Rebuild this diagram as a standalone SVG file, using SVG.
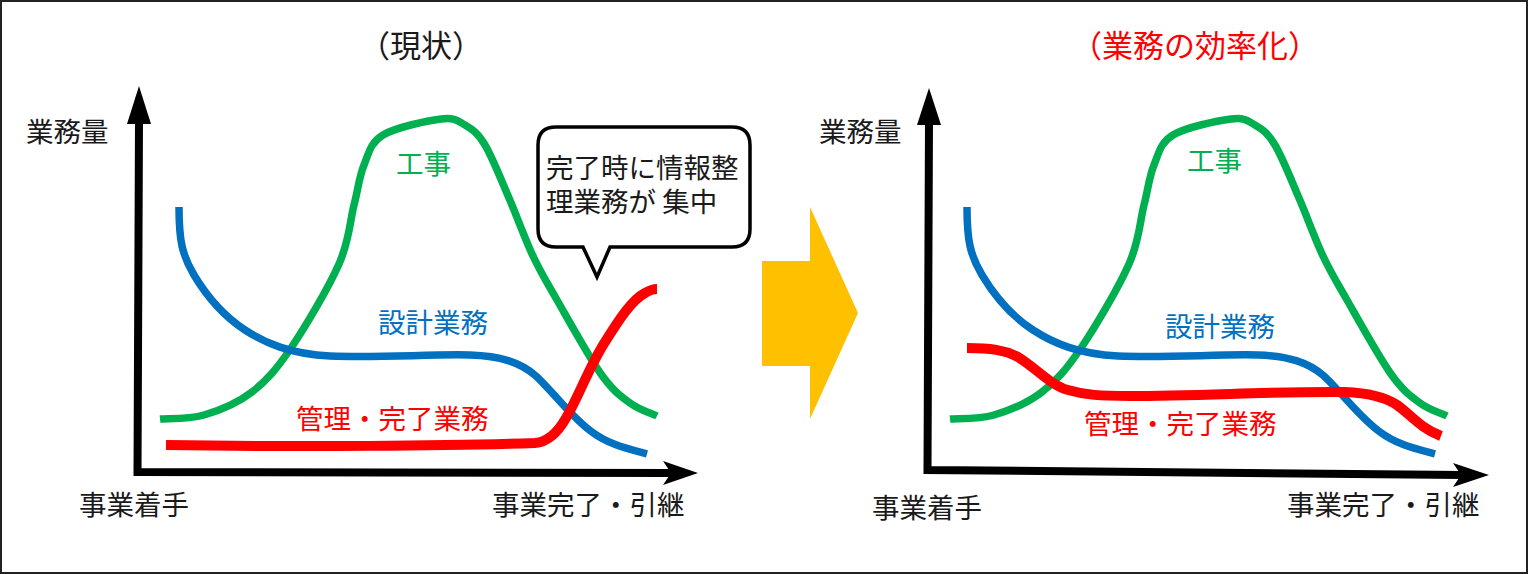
<svg xmlns="http://www.w3.org/2000/svg" width="1528" height="574" viewBox="0 0 1528 574">
<style>
text{font-family:"Noto Sans CJK JP","Noto Sans CJK SC",sans-serif;font-size:27.5px;fill:#1a1a1a}
.title{font-size:31px;text-anchor:middle}
.red{fill:#FF0000}
.green{fill:#00B050}
.blue{fill:#0070C0}
.curve{fill:none;stroke-linecap:butt;stroke-linejoin:round}
.g{stroke:#00B050;stroke-width:7.5}
.b{stroke:#0070C0;stroke-width:7.5}
.r{stroke:#FF0000;stroke-width:10}
.axis{fill:none;stroke:#000;stroke-width:8;stroke-linejoin:miter;stroke-linecap:butt}
.head{fill:#000}
</style>
<rect x="1" y="1" width="1526" height="572" fill="#fff" stroke="#222" stroke-width="2"/>

<g id="left-chart">
  <text class="title" x="421" y="57">（現状）</text>
  <g id="left-axes">
    <path class="axis" d="M139,122 L137.5,472 L672,473"/>
    <polygon class="head" points="139,86 127,124 151,124"/>
    <polygon class="head" points="698,473 663,461 671,473 663,485"/>
  </g>
  <text x="26" y="142">業務量</text>
  <text x="79" y="515">事業着手</text>
  <text x="492" y="515">事業完了・引継</text>
  <g id="left-curves">
    <path id="green-curve" class="curve g" d="M160,419 C167.3,418.3 188.7,419.5 204,415 C219.3,410.5 237.5,403.2 252,392 C266.5,380.8 276.5,369.3 291,348 C305.5,326.7 328.5,287.8 339,264 C349.5,240.2 349.8,221.5 354,205 C358.2,188.5 359.2,176.7 364,165 C368.8,153.3 370.2,142.7 383,135 C395.8,127.3 427.3,120.7 441,119 C454.7,117.3 457.7,120.7 465,125 C472.3,129.3 477.7,132.8 485,145 C492.3,157.2 501,179.5 509,198 C517,216.5 525,239 533,256 C541,273 545.7,280.3 557,300 C568.3,319.7 588.8,356.8 601,374 C613.2,391.2 620.7,396 630,403 C639.3,410 652.5,413.8 657,416"/>
    <path id="blue-curve" class="curve b" d="M179,207 C179,240 182,255 194,275 C206,295 222,315 245,330 C265,343 290,354 330,356 C380,358 430,354 470,355 C500,356 520,362 536,376 C555,394 572,418 592,432 C608,444 625,448 647,454"/>
    <path id="red-curve" class="curve r" d="M166,445 C300,447 450,446 535,443 C548,442 558,432 566,418 C578,398 590,365 605,342 C620,318 632,300 645,293 C650,290 654,289 657,289"/>
  </g>
  <text class="green" x="396" y="174">工事</text>
  <text class="blue" x="378" y="333">設計業務</text>
  <text class="red" x="296" y="429">管理・完了業務</text>
  <g id="callout">
    <path d="M556,127 H732 Q750,127 750,145 V229 Q750,247 732,247 H610 L597,277 L583,247 H556 Q538,247 538,229 V145 Q538,127 556,127 Z" fill="#fff" stroke="#000" stroke-width="3.5" stroke-linejoin="miter"/>
    <text x="546" y="178">完了時に情報整<tspan x="546" y="212">理業務が 集中</tspan></text>
  </g>
</g>

<g id="transition-arrow">
  <polygon points="762,261 810,261 810,207 858,313 810,419 810,366 762,366" fill="#FFC000"/>
</g>

<g id="right-chart">
  <text class="title red" x="1195" y="57">（業務の効率化）</text>
  <g id="right-axes">
    <path class="axis" d="M929,122 L927.5,470 L1462,475"/>
    <polygon class="head" points="929,88 917,125 941,125"/>
    <polygon class="head" points="1489,475 1453,463 1461,475 1453,487"/>
  </g>
  <text x="819" y="142">業務量</text>
  <text x="872" y="518">事業着手</text>
  <text x="1287" y="515">事業完了・引継</text>
  <g id="right-curves">
    <use href="#green-curve" transform="translate(790,0)"/>
    <use href="#blue-curve" transform="translate(788,0)"/>
    <path class="curve r" d="M967,348 C990,348 1005,350 1018,357 C1035,367 1050,385 1068,390 C1085,395 1100,396 1130,396 C1200,396 1280,391 1345,392 C1370,393 1385,397 1397,405 C1410,414 1420,428 1441,436"/>
  </g>
  <text class="green" x="1187" y="171">工事</text>
  <text class="blue" x="1165" y="337">設計業務</text>
  <text class="red" x="1084" y="434">管理・完了業務</text>
</g>
</svg>
